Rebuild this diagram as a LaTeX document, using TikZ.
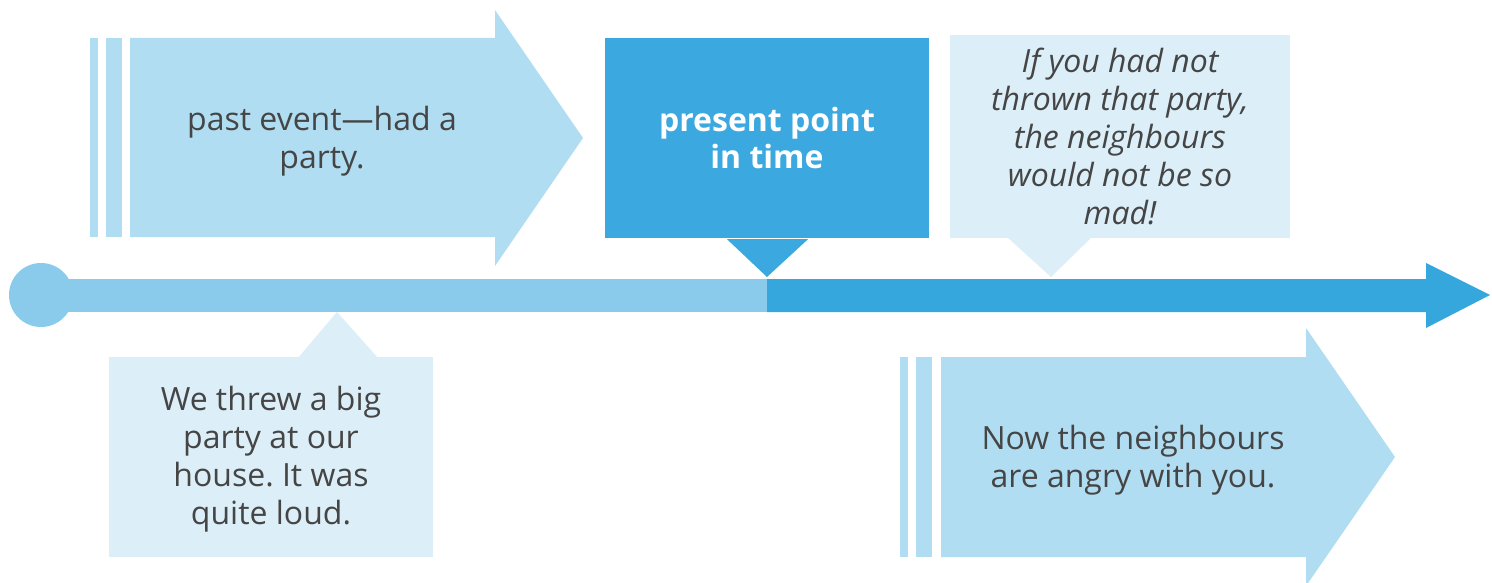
\documentclass[tikz,border=0pt]{standalone}
\usepackage{fontspec}
\setmainfont{Open Sans}
\usetikzlibrary{calc}
\definecolor{arrowfill}{HTML}{B0DDF1}
\definecolor{calloutfill}{HTML}{DCEFF8}
\definecolor{presentfill}{HTML}{3BA8DF}
\definecolor{barlight}{HTML}{8ACBEC}
\definecolor{bardark}{HTML}{35A7DD}
\definecolor{txt}{HTML}{454545}
\frenchspacing
\begin{document}
\begin{tikzpicture}[x=1pt,y=-1pt,
  label text/.style={text=txt,align=center,font=\fontsize{32}{38}\selectfont,inner sep=0pt},
  boxnode/.style={rectangle,inner sep=0pt,align=center,font=\fontsize{32}{38}\selectfont},
]
\useasboundingbox (0,0) rectangle (1492,583);
\fill[white] (0,0) rectangle (1492,583);

% upper-left arrow
\fill[arrowfill] (90,38) rectangle (98,237);
\fill[arrowfill] (106,38) rectangle (122,237);
\fill[arrowfill] (130,38) -- (495,38) -- (495,10) -- (583,138) -- (495,266) -- (495,237) -- (130,237) -- cycle;
\node[label text] (past) at (322,141) {past event—had a\\party.};

% timeline
\fill[barlight] (41,295) circle (32pt);
\fill[barlight] (41,279) rectangle (767,312);
\fill[bardark] (767,279) -- (1426,279) -- (1426,263) -- (1490,295) -- (1426,328) -- (1426,312) -- (767,312) -- cycle;

% present point
\node[boxnode,fill=presentfill,text=white,font=\fontsize{32}{38}\selectfont\bfseries,minimum width=324pt,minimum height=200pt] (present) at (767,138) {present point\\in time};
\fill[presentfill] ($(present.south)+(-40,1)$) -- (767,277) -- ($(present.south)+(41,1)$) -- cycle;

% conditional callout
\node[boxnode,fill=calloutfill,text=txt,font=\fontsize{32}{38}\selectfont\itshape,minimum width=340pt,minimum height=203pt] (cond) at (1120,136.5) {If you had not\\thrown that party,\\the neighbours\\would not be so\\mad!};
\fill[calloutfill] (1007,237) -- (1051,277) -- (1092,237) -- cycle;

% bottom-left callout
\fill[calloutfill] (109,357) rectangle (433,557);
\node[label text] (event) at (271,459) {We threw a big\\party at our\\house. It was\\quite loud.};
\fill[calloutfill] (298,358) -- (337,312) -- (378,358) -- cycle;

% bottom-right arrow
\fill[arrowfill] (900,357) rectangle (908,557);
\fill[arrowfill] (916,357) rectangle (932,557);
\fill[arrowfill] (941,357) -- (1306,357) -- (1306,328) -- (1395,457) -- (1306,586) -- (1306,557) -- (941,557) -- cycle;
\node[label text] (now) at (1133,460) {Now the neighbours\\are angry with you.};
\end{tikzpicture}
\end{document}
